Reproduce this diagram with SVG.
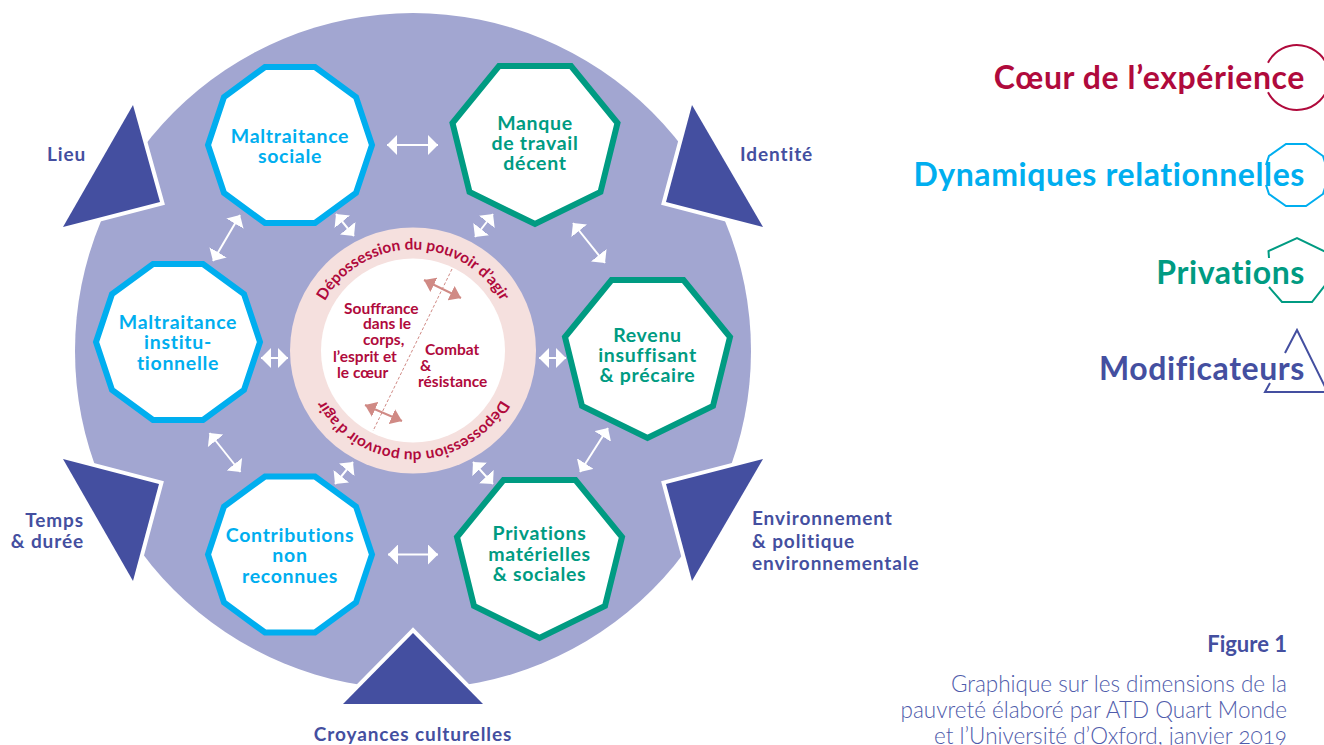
<svg xmlns="http://www.w3.org/2000/svg" width="1324" height="745" viewBox="0 0 1324 745">
<style>
text{font-family:"Lato","Noto Sans",sans-serif;font-weight:700}
.node{fill:#fff;stroke-width:6;stroke-linejoin:miter}
.b{stroke:#00aeef}.g{stroke:#009b82}
.tb{fill:#00aeef}.tg{fill:#009b82}
.nt{font-size:19.5px;text-anchor:middle;letter-spacing:.7px}
.mod{fill:#444fa0;stroke:#fff;stroke-width:8;paint-order:stroke;stroke-linejoin:miter;stroke-miterlimit:10}
.ml{fill:#444fa0;font-size:19px;letter-spacing:.9px}
.cr{fill:#b00a3c;font-size:15.500px}
.leg{font-size:32px;text-anchor:end;letter-spacing:.6px}
.ls{fill:none;stroke-width:2}
.cap{fill:#4f5cab;font-size:22.500px;font-weight:300;text-anchor:end;font-variant-numeric:oldstyle-nums}
.wa{stroke:#fff;stroke-width:2;fill:none;marker-start:url(#wh);marker-end:url(#wh)}
.sa{stroke:#d08a85;stroke-width:2;fill:none;marker-start:url(#sh);marker-end:url(#sh)}
</style>
<defs>
<marker id="wh" viewBox="0 -10 10 20" refX="10" refY="0" markerWidth="10" markerHeight="20" markerUnits="userSpaceOnUse" orient="auto-start-reverse"><path d="M0,-10L10,0L0,10z" fill="#fff"/></marker>
<marker id="sh" viewBox="0 -8 11 16" refX="11" refY="0" markerWidth="11" markerHeight="16" markerUnits="userSpaceOnUse" orient="auto-start-reverse"><path d="M0,-8L11,0L0,8z" fill="#d08a85"/></marker>
<path id="arc" d="M312,350.500A101,101 0 0 1 514,350.500"/>
</defs>
<g id="background"><circle cx="413" cy="351" r="338" fill="#a2a6d1"/></g>
<g id="modifiers">
<g id="mod-lieu"><polygon class="mod" points="133,105 63,227 160,202"/><text class="ml" x="47" y="161">Lieu</text></g>
<g id="mod-identite"><polygon class="mod" points="692,105 763,227 666,202"/><text class="ml" x="740" y="161">Identité</text></g>
<g id="mod-temps"><polygon class="mod" points="63,459 159,484 133,581"/><text class="ml" x="84" y="527" text-anchor="end">Temps</text><text class="ml" x="84" y="548" text-anchor="end">&amp; durée</text></g>
<g id="mod-environnement"><polygon class="mod" points="763,459 666,484 692,581"/><text class="ml" x="752" y="525">Environnement</text><text class="ml" x="752" y="548">&amp; politique</text><text class="ml" x="752" y="570">environnementale</text></g>
<g id="mod-croyances"><polygon class="mod" points="413,633 343,704 483,704"/><text class="ml" x="413" y="741" text-anchor="middle">Croyances culturelles</text></g>
</g>
<g id="connectors">
<line class="wa" x1="387" y1="145" x2="438" y2="145"/>
<line class="wa" x1="388" y1="554.5" x2="438" y2="554.5"/>
<line class="wa" x1="240" y1="215" x2="213" y2="261"/>
<line class="wa" x1="209.5" y1="433" x2="240.5" y2="472"/>
<line class="wa" x1="573" y1="223" x2="605" y2="263"/>
<line class="wa" x1="608" y1="428" x2="580" y2="472"/>
<line class="wa" x1="336" y1="214" x2="354" y2="236"/>
<line class="wa" x1="493" y1="214" x2="475" y2="237"/>
<line class="wa" x1="261" y1="358" x2="288" y2="358"/>
<line class="wa" x1="539" y1="358" x2="566" y2="358"/>
<line class="wa" x1="353" y1="462" x2="335" y2="484"/>
<line class="wa" x1="473" y1="462" x2="493" y2="484"/>
</g>
<g id="node-maltraitance-sociale"><polygon class="node b" points="372,145 356,193 315,223 265,223 224,193 208,145 224,97 265,67 315,67 356,97"/><text class="nt tb" x="290" y="143">Maltraitance</text><text class="nt tb" x="290" y="163">sociale</text></g>
<g id="node-maltraitance-institutionnelle"><polygon class="node b" points="260,342 244,390 203,420 153,420 112,390 96,342 112,294 153,264 203,264 244,294"/><text class="nt tb" x="178" y="329">Maltraitance</text><text class="nt tb" x="178" y="349">institu-</text><text class="nt tb" x="178" y="370">tionnelle</text></g>
<g id="node-contributions"><polygon class="node b" points="372,554.5 356,602.5 315,632.5 265,632.5 224,602.5 208,554.5 224,506.5 265,476.5 315,476.5 356,506.5"/><text class="nt tb" x="290" y="542">Contributions</text><text class="nt tb" x="290" y="562">non</text><text class="nt tb" x="290" y="583">reconnues</text></g>
<g id="node-manque"><polygon class="node g" points="499,66 571,66 617.500,123 600.500,192 535,224 469.500,192 452.500,123"/><text class="nt tg" x="535" y="130">Manque</text><text class="nt tg" x="535" y="150">de travail</text><text class="nt tg" x="535" y="170">décent</text></g>
<g id="node-revenu"><polygon class="node g" points="611.5,280 683.5,280 730,337 713,406 647.5,438 582,406 565,337"/><text class="nt tg" x="647.5" y="342">Revenu</text><text class="nt tg" x="647.5" y="362">insuffisant</text><text class="nt tg" x="647.5" y="382">&amp; précaire</text></g>
<g id="node-privations"><polygon class="node g" points="503.5,480 575.5,480 622,537 605,606 539.5,638 474,606 457,537"/><text class="nt tg" x="539.5" y="540">Privations</text><text class="nt tg" x="539.5" y="561">matérielles</text><text class="nt tg" x="539.5" y="581">&amp; sociales</text></g>
<g id="node-centre">
<circle cx="413" cy="350.5" r="123" fill="#f5e0de"/><circle cx="413" cy="350.5" r="92" fill="#fff"/>
<text class="cr"><textPath href="#arc" startOffset="50%" text-anchor="middle">Dépossession du pouvoir d’agir</textPath></text>
<text class="cr" transform="rotate(180 413 350.5)"><textPath href="#arc" startOffset="50%" text-anchor="middle">Dépossession du pouvoir d’agir</textPath></text>
<line x1="452" y1="269" x2="373" y2="431" stroke="#d08a85" stroke-width="1" stroke-dasharray="3 2"/>
<line class="sa" x1="424" y1="280" x2="461" y2="298"/>
<line class="sa" x1="365" y1="405" x2="402" y2="421"/>
<text class="cr" x="344" y="314">Souffrance</text><text class="cr" x="363" y="329">dans le</text><text class="cr" x="363" y="345">corps,</text><text class="cr" x="333" y="362">l’esprit et</text><text class="cr" x="337" y="378">le cœur</text>
<text class="cr" x="425" y="355">Combat</text><text class="cr" x="420" y="371">&amp;</text><text class="cr" x="418" y="387">résistance</text>
</g>
<g id="legend">
<g id="legend-coeur"><path class="ls" stroke="#b00a3c" d="M1268,62.800A32.500,32.500 0 0 1 1329,72M1329,83A32.500,32.500 0 0 1 1268,92.200"/><text class="leg" fill="#b00a3c" x="1305" y="89">Cœur de l’expérience</text></g>
<g id="legend-dynamiques"><path class="ls" stroke="#00aeef" d="M1266,165L1269,156L1286,144L1306,144L1323,156L1329,175L1323,194L1306,206L1286,206L1269,194L1266,185"/><text class="leg" fill="#00aeef" x="1305" y="185.500">Dynamiques relationnelles</text></g>
<g id="legend-privations"><path class="ls" stroke="#009b82" d="M1269,258L1268.500,251L1297,238L1326,252M1269,287L1282,302L1312,302L1326,284"/><text class="leg" fill="#009b82" x="1305" y="283.500">Privations</text></g>
<g id="legend-modificateurs"><path class="ls" stroke="#444fa0" d="M1285,353L1297,330L1331,399M1270,383L1265,392L1330,392"/><text class="leg" fill="#444fa0" x="1305" y="379.500">Modificateurs</text></g>
</g>
<g id="caption">
<text x="1287" y="652" text-anchor="end" fill="#444fa0" font-size="22">Figure 1</text>
<text class="cap" x="1287" y="692">Graphique sur les dimensions de la</text>
<text class="cap" x="1287" y="718">pauvreté élaboré par ATD Quart Monde</text>
<text class="cap" x="1287" y="744">et l’Université d’Oxford, janvier 2019</text>
</g>
</svg>
